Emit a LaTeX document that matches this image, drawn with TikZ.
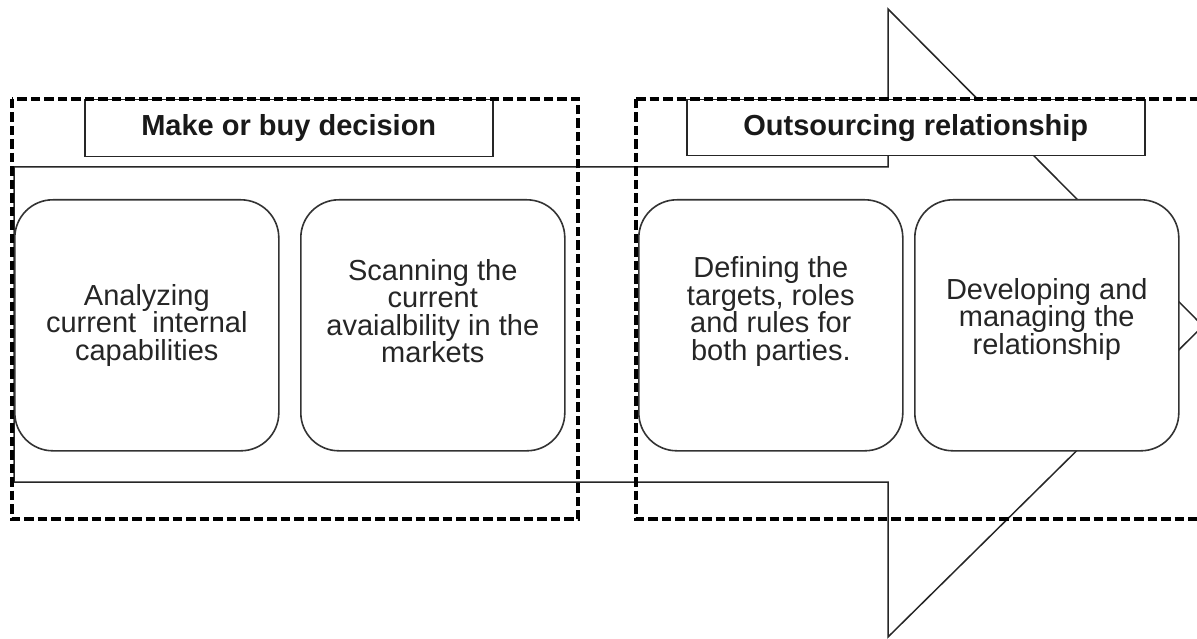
\documentclass[tikz,border=0pt]{standalone}
\usepackage{fontspec}
\setmainfont{Liberation Sans}
\begin{document}
\begin{tikzpicture}[x=1pt,y=-1pt,
  outline/.style={draw=black!85, line width=1.5pt},
  stage/.style={draw=black!80, line width=1.6pt, fill=white, rounded corners=38pt,
    minimum width=264pt, minimum height=251pt, anchor=north west, inner sep=0pt},
  stagetext/.style={align=center, text=black!85, font=\fontsize{29}{27.5}\selectfont, inner sep=0pt},
  phasebox/.style={draw=black!85, line width=1.5pt, fill=white, anchor=north west,
    inner sep=0pt, font=\bfseries\fontsize{29}{32}\selectfont, text=black!90},
  groupbox/.style={draw=black, line width=3.2pt, dash pattern=on 9.5pt off 4pt}]
\useasboundingbox (0,0) rectangle (1197,639);

% large block arrow in the background
\draw[outline, fill=white, line join=miter]
  (14,167) -- (888,167) -- (888,9) -- (1203,326) -- (888,637) -- (888,482) -- (14,482) -- cycle;

% process steps
\node[stage] (s1) at (14,199) {};
\node[stage] (s2) at (300,199) {};
\node[stage] (s3) at (638,199) {};
\node[stage] (s4) at (914,199) {};

\node[stagetext] (t1) at ([yshift=0pt]s1.center) {Analyzing\\current\ \ internal\\capabilities};
\node[stagetext] (t2) at ([yshift=14pt]s2.center) {Scanning the\\current\\avaialbility in the\\markets};
\node[stagetext] (t3) at ([yshift=14pt]s3.center) {Defining the\\targets, roles\\and rules for\\both parties.};
\node[stagetext] (t4) at ([yshift=6pt]s4.center) {Developing and\\managing the\\relationship};

% phase titles
\node[phasebox, minimum width=408pt, minimum height=57pt] (p1) at (84,99) {Make or buy decision};
\node[phasebox, minimum width=458pt, minimum height=56pt] (p2) at (686,99) {Outsourcing relationship};

% dashed phase groups
\draw[groupbox] (12,99) rectangle (578,519);
\draw[groupbox] (636,99) -- (1215,99);
\draw[groupbox] (636,99) -- (636,519) -- (1215,519);
\end{tikzpicture}
\end{document}
